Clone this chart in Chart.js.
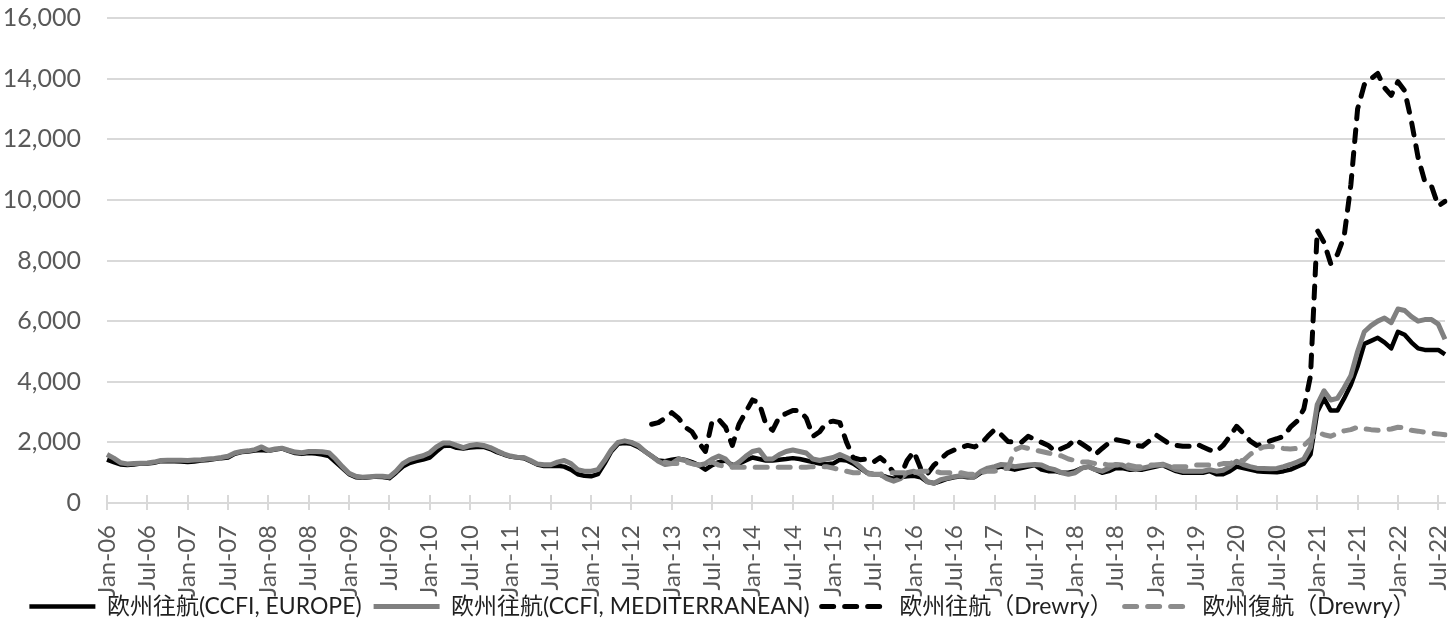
<!DOCTYPE html>
<html><head><meta charset="utf-8">
<script src="https://cdn.jsdelivr.net/npm/chart.js@4.4.1/dist/chart.umd.min.js"></script>
<style>html,body{margin:0;padding:0;background:#fff}#wrap{width:1456px;height:623px;position:relative}</style>
</head><body><div id="wrap"><canvas id="c" width="1456" height="623"></canvas></div>
<script>
const MONTH_NAMES = ["Jan","Feb","Mar","Apr","May","Jun","Jul","Aug","Sep","Oct","Nov","Dec"];
const START_YEAR = 2006, N_MONTHS = 200;
const categories = [];
for (let i = 0; i < N_MONTHS; i++) {
  const y = START_YEAR + Math.floor(i / 12);
  categories.push(MONTH_NAMES[i % 12] + "-" + String(y % 100).padStart(2, "0"));
}
const TICK_EVERY = 6;

const seriesNames = ["欧州往航(CCFI, EUROPE)", "欧州往航(CCFI, MEDITERRANEAN)", "欧州往航（Drewry）", "欧州復航（Drewry）"];

const ccfiEurope = [
  1430,1350,1270,1250,1270,1300,1300,1330,1380,1380,
  1380,1370,1350,1370,1400,1420,1450,1480,1500,1620,
  1680,1700,1730,1750,1720,1760,1800,1720,1650,1620,
  1650,1630,1600,1550,1350,1150,950,850,830,850,
  870,860,820,1000,1200,1320,1380,1430,1500,1700,
  1880,1900,1820,1800,1830,1850,1850,1780,1680,1600,
  1530,1500,1480,1380,1270,1220,1220,1230,1200,1100,
  950,900,880,950,1300,1700,1950,1980,1950,1850,
  1700,1550,1400,1380,1430,1460,1420,1350,1250,1100,
  1250,1350,1400,1250,1300,1400,1500,1450,1400,1400,
  1430,1450,1480,1450,1400,1350,1300,1280,1300,1430,
  1400,1300,1150,1000,950,930,850,800,850,880,
  900,850,700,650,720,800,850,880,850,850,
  1000,1100,1150,1200,1150,1100,1150,1200,1250,1100,
  1050,1050,1000,1000,1050,1150,1200,1100,1000,1050,
  1150,1150,1100,1100,1100,1150,1200,1250,1150,1050,
  1000,1000,1000,1000,1050,950,950,1050,1200,1150,
  1100,1050,1030,1020,1015,1050,1100,1200,1300,1600,
  3000,3450,3050,3050,3450,3900,4500,5250,5350,5450,
  5300,5100,5650,5550,5300,5100,5050,5050,5050,4900
];
const ccfiMed = [
  1600,1480,1330,1290,1300,1310,1320,1350,1400,1410,
  1410,1410,1400,1420,1430,1450,1470,1500,1540,1650,
  1700,1720,1760,1850,1730,1780,1810,1740,1680,1660,
  1700,1700,1690,1660,1450,1200,980,880,850,870,
  880,880,860,1050,1300,1430,1500,1560,1660,1850,
  1980,1980,1900,1830,1900,1930,1900,1830,1720,1620,
  1550,1510,1500,1400,1290,1260,1260,1350,1400,1300,
  1100,1050,1050,1100,1400,1750,2000,2050,2000,1900,
  1700,1550,1380,1270,1300,1450,1400,1300,1250,1300,
  1450,1550,1450,1200,1350,1540,1700,1750,1450,1450,
  1600,1700,1750,1700,1650,1450,1400,1450,1500,1600,
  1500,1380,1200,1000,950,940,800,720,800,1000,
  1050,950,700,650,770,820,870,900,880,870,
  1050,1150,1200,1270,1250,1200,1230,1250,1270,1250,
  1150,1100,1000,950,1000,1150,1200,1100,1050,1150,
  1270,1250,1150,1100,1150,1200,1250,1280,1200,1100,
  1050,1050,1050,1050,1100,1050,1080,1200,1380,1270,
  1200,1150,1140,1130,1140,1200,1270,1350,1450,1850,
  3250,3700,3400,3450,3800,4200,5000,5650,5850,6000,
  6100,5950,6400,6350,6150,6000,6050,6050,5900,5400
];
const drewryWestStart = 81;
const drewryWest = [
  2600,2650,2800,2980,2800,2500,2350,2000,1700,
  2700,2750,2500,1900,2600,3000,3400,3300,2600,2400,
  2850,2950,3050,3050,2800,2200,2350,2650,2700,2650,
  2000,1500,1430,1450,1350,1500,1300,1000,880,1400,
  1700,1150,950,1250,1450,1650,1750,1830,1900,1850,
  1950,2200,2420,2250,2030,2000,2000,2200,2100,2000,
  1900,1700,1800,1900,2100,1950,1800,1600,1800,1980,
  2090,2050,2000,1900,1870,2050,2250,2100,1950,1900,
  1870,1870,1950,1850,1750,1700,1900,2200,2530,2300,
  2050,1900,1950,2050,2120,2200,2500,2700,3100,4200,
  9000,8600,7900,8200,8800,10500,13000,13800,14000,14170,
  13700,13450,13900,13600,12600,11400,10600,10450,9800,9950
];
const drewryReturnStart = 83;
const drewryReturn = [
  1350,1300,1300,1350,1300,1250,1300,
  1350,1250,1200,1180,1180,1180,1180,1180,1180,1180,
  1180,1180,1180,1180,1180,1200,1200,1200,1150,1100,
  1050,1000,1000,950,950,950,1000,1000,1000,1000,
  1000,1050,1050,1050,1000,1000,1000,1000,950,950,
  1000,1050,1050,1100,1150,1750,1850,1800,1750,1700,
  1650,1600,1550,1450,1400,1350,1350,1300,1300,1250,
  1250,1250,1250,1200,1200,1250,1250,1250,1200,1200,
  1200,1200,1250,1250,1250,1250,1300,1300,1400,1400,
  1600,1750,1850,1870,1830,1800,1780,1800,1900,2100,
  2350,2250,2200,2300,2380,2420,2500,2450,2420,2400,
  2420,2440,2500,2480,2400,2370,2330,2300,2280,2250
];
const yTicks = [0, 2000, 4000, 6000, 8000, 10000, 12000, 14000, 16000];

function padSeries(start, vals) {
  return new Array(start).fill(null).concat(vals);
}

const FONT = "Lato, 'Noto Sans CJK JP', sans-serif";
const GRID = "#d9d9d9";

const crossTicks = {
  id: 'crossTicks',
  beforeDatasetsDraw(chart) {
    const xs = chart.scales.x, ctx = chart.ctx, b = chart.chartArea.bottom;
    ctx.save();
    ctx.strokeStyle = GRID; ctx.lineWidth = 2;
    xs.ticks.forEach((t, i) => {
      if (i % TICK_EVERY !== 0) return;
      const x = Math.round(xs.getPixelForTick(i));
      ctx.beginPath(); ctx.moveTo(x, b - 8); ctx.lineTo(x, b); ctx.stroke();
    });
    ctx.restore();
  }
};

new Chart(document.getElementById('c'), {
  type: 'line',
  data: {
    labels: categories,
    datasets: [
      { label: seriesNames[0], data: ccfiEurope, borderColor: '#000000', backgroundColor: '#000000', borderWidth: 4.5, order: 3 },
      { label: seriesNames[1], data: ccfiMed, borderColor: '#808080', backgroundColor: '#808080', borderWidth: 5, order: 2 },
      { label: seriesNames[2], data: padSeries(drewryWestStart, drewryWest), borderColor: '#000000', backgroundColor: '#000000', borderWidth: 5, borderDash: [12, 11], borderCapStyle: 'round', order: 1 },
      { label: seriesNames[3], data: padSeries(drewryReturnStart, drewryReturn), borderColor: '#8c8c8c', backgroundColor: '#8c8c8c', borderWidth: 5, borderDash: [12, 11], borderCapStyle: 'round', order: 0 }
    ]
  },
  options: {
    responsive: false,
    animation: false,
    devicePixelRatio: 1,
    layout: { padding: { top: 18, right: 11, left: 0, bottom: 0 } },
    elements: { point: { radius: 0, hoverRadius: 0 }, line: { tension: 0, borderJoinStyle: 'round', fill: false } },
    plugins: {
      tooltip: { enabled: false },
      legend: {
        position: 'bottom',
        align: 'center',
        maxHeight: 40,
        labels: {
          usePointStyle: true,
          pointStyleWidth: 66,
          boxWidth: 66,
          padding: 12,
          color: '#1f1f1f',
          font: { family: FONT, size: 23 },
          generateLabels(chart) {
            return chart.data.datasets.map((ds, i) => ({
              text: ds.label, datasetIndex: i, hidden: false,
              fillStyle: ds.borderColor, strokeStyle: ds.borderColor,
              lineWidth: ds.borderWidth, lineDash: ds.borderDash || [],
              lineCap: ds.borderCapStyle || 'butt', pointStyle: 'line', fontColor: '#1f1f1f'
            }));
          }
        }
      }
    },
    scales: {
      x: {
        type: 'category',
        offset: false,
        afterFit(s) { s.height = 80; s.paddingLeft = 0; s.paddingRight = 0; s._computeLabelArea = () => null; },
        border: { display: true, color: GRID, width: 2 },
        grid: {
          drawOnChartArea: false, drawTicks: true, tickLength: 7, lineWidth: 2,
          color: (c) => (c.index % TICK_EVERY === 0 ? GRID : 'rgba(0,0,0,0)')
        },
        ticks: {
          autoSkip: false, minRotation: 90, maxRotation: 90, padding: 15,
          color: '#595959', font: { family: FONT, size: 24 },
          callback(v, i) { return i % TICK_EVERY === 0 ? this.getLabelForValue(v) : ''; }
        }
      },
      y: {
        min: 0, max: 16000,
        afterFit(s) { s.width = 107; s.paddingTop = 0; s.paddingBottom = 0; },
        afterBuildTicks(s) { s.ticks = yTicks.map(v => ({ value: v })); },
        border: { display: false },
        grid: { color: GRID, lineWidth: 2, drawTicks: false },
        ticks: {
          padding: 26, color: '#595959', font: { family: FONT, size: 25 },
          callback(v) { return Number(v).toLocaleString('en-US'); }
        }
      }
    }
  },
  plugins: [crossTicks]
});
</script></body></html>
